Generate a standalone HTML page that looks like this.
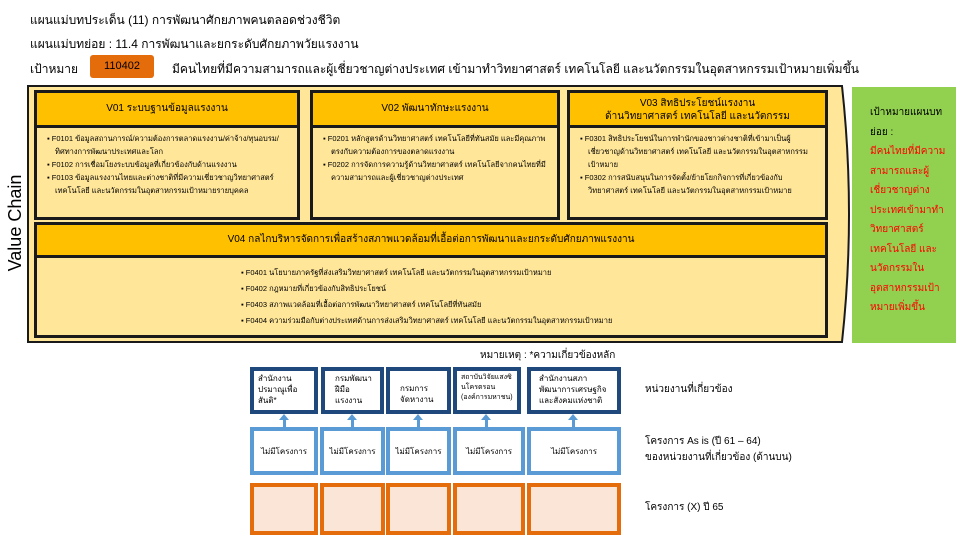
<!DOCTYPE html>
<html><head><meta charset="utf-8"><style>
body{margin:0;width:960px;height:540px;background:#fff;position:relative;overflow:hidden;font-family:"Liberation Sans",sans-serif;color:#000}
.a{position:absolute}
.t{font-size:12px}
.hd{background:#ffc000;border:3px solid #1a1a1a;text-align:center;font-size:10px;box-sizing:border-box}
.bd{background:#ffe699;border:3px solid #1a1a1a;box-sizing:border-box;font-size:7.5px;line-height:13px;padding:4px 6px 0 6px}
.bd div{padding-left:12px;text-indent:-8px}
.db{border:4px solid #1f497d;background:#fff;box-sizing:border-box;font-size:8px;line-height:11px;padding:2px 4px;overflow:hidden}
.lb{border:4px solid #5b9bd5;background:#fff;box-sizing:border-box;font-size:8px;display:flex;align-items:center;justify-content:center}
.ob{border:4px solid #e46c0a;background:#fbe5d6;box-sizing:border-box}
.ar{position:absolute;width:0;height:0;border-left:5px solid transparent;border-right:5px solid transparent;border-bottom:6px solid #5b9bd5}
.as{position:absolute;width:3px;height:8px;background:#5b9bd5}
</style></head><body>
<div class="a t" style="left:30px;top:11px">แผนแม่บทประเด็น (11) การพัฒนาศักยภาพคนตลอดช่วงชีวิต</div>
<div class="a t" style="left:30px;top:35px">แผนแม่บทย่อย : 11.4 การพัฒนาและยกระดับศักยภาพวัยแรงงาน</div>
<div class="a t" style="left:30px;top:60px">เป้าหมาย</div>
<div class="a" style="left:90px;top:55px;width:64px;height:23px;background:#e46c0a;border-radius:3px;font-size:11px;text-align:center;line-height:23px">110402</div>
<div class="a t" style="left:172px;top:60px">มีคนไทยที่มีความสามารถและผู้เชี่ยวชาญต่างประเทศ เข้ามาทำวิทยาศาสตร์ เทคโนโลยี และนวัตกรรมในอุตสาหกรรมเป้าหมายเพิ่มขึ้น</div>
<div class="a" style="left:-45px;top:213px;width:120px;text-align:center;transform:rotate(-90deg);font-size:18px;white-space:nowrap;line-height:20px">Value Chain</div>
<svg class="a" style="left:0;top:0" width="960" height="540"><path d="M28,86 L842,86 Q856,214 842,342 L28,342 Z" fill="#ffe699" stroke="#1a1a1a" stroke-width="2"/></svg>
<div class="a hd" style="left:34px;top:90px;width:266px;height:38px;line-height:32px">V01 ระบบฐานข้อมูลแรงงาน</div>
<div class="a bd" style="left:34px;top:125px;width:266px;height:95px"><div>▪ F0101 ข้อมูลสถานการณ์/ความต้องการตลาดแรงงาน/ค่าจ้าง/ทุนอบรม/ทิศทางการพัฒนาประเทศและโลก</div><div>▪ F0102 การเชื่อมโยงระบบข้อมูลที่เกี่ยวข้องกับด้านแรงงาน</div><div>▪ F0103 ข้อมูลแรงงานไทยและต่างชาติที่มีความเชี่ยวชาญวิทยาศาสตร์ เทคโนโลยี และนวัตกรรมในอุตสาหกรรมเป้าหมายรายบุคคล</div></div>
<div class="a hd" style="left:310px;top:90px;width:250px;height:38px;line-height:32px">V02 พัฒนาทักษะแรงงาน</div>
<div class="a bd" style="left:310px;top:125px;width:250px;height:95px"><div>▪ F0201 หลักสูตรด้านวิทยาศาสตร์ เทคโนโลยีที่ทันสมัย และมีคุณภาพตรงกับความต้องการของตลาดแรงงาน</div><div>▪ F0202 การจัดการความรู้ด้านวิทยาศาสตร์ เทคโนโลยีจากคนไทยที่มีความสามารถและผู้เชี่ยวชาญต่างประเทศ</div></div>
<div class="a hd" style="left:567px;top:90px;width:261px;height:38px;line-height:13px;padding-top:4px">V03 สิทธิประโยชน์แรงงาน<br>ด้านวิทยาศาสตร์ เทคโนโลยี และนวัตกรรม</div>
<div class="a bd" style="left:567px;top:125px;width:261px;height:95px"><div>▪ F0301 สิทธิประโยชน์ในการพำนักของชาวต่างชาติที่เข้ามาเป็นผู้เชี่ยวชาญด้านวิทยาศาสตร์ เทคโนโลยี และนวัตกรรมในอุตสาหกรรมเป้าหมาย</div><div>▪ F0302 การสนับสนุนในการจัดตั้ง/ย้ายโยกกิจการที่เกี่ยวข้องกับวิทยาศาสตร์ เทคโนโลยี และนวัตกรรมในอุตสาหกรรมเป้าหมาย</div></div>
<div class="a hd" style="left:34px;top:222px;width:794px;height:36px;line-height:30px">V04 กลไกบริหารจัดการเพื่อสร้างสภาพแวดล้อมที่เอื้อต่อการพัฒนาและยกระดับศักยภาพแรงงาน</div>
<div class="a bd" style="left:34px;top:255px;width:794px;height:83px;padding-left:200px;padding-top:7px;line-height:16px"><div>▪ F0401 นโยบายภาครัฐที่ส่งเสริมวิทยาศาสตร์ เทคโนโลยี และนวัตกรรมในอุตสาหกรรมเป้าหมาย</div><div>▪ F0402 กฎหมายที่เกี่ยวข้องกับสิทธิประโยชน์</div><div>▪ F0403 สภาพแวดล้อมที่เอื้อต่อการพัฒนาวิทยาศาสตร์ เทคโนโลยีที่ทันสมัย</div><div>▪ F0404 ความร่วมมือกับต่างประเทศด้านการส่งเสริมวิทยาศาสตร์ เทคโนโลยี และนวัตกรรมในอุตสาหกรรมเป้าหมาย</div></div>
<div class="a" style="left:852px;top:87px;width:104px;height:256px;background:#92d050;box-sizing:border-box;padding:16px 4px 0 18px;font-size:10px;line-height:19.5px">เป้าหมายแผนบทย่อย :<br><span style="color:#f00">มีคนไทยที่มีความสามารถและผู้เชี่ยวชาญต่างประเทศเข้ามาทำวิทยาศาสตร์เทคโนโลยี และนวัตกรรมในอุตสาหกรรมเป้าหมายเพิ่มขึ้น</span></div>
<div class="a" style="left:480px;top:348px;font-size:10px">หมายเหตุ : *ความเกี่ยวข้องหลัก</div>
<div class="a db" style="left:250px;top:367px;width:68px;height:47px">สำนักงานปรมาณูเพื่อสันติ*</div>
<div class="a db" style="left:321px;top:367px;width:63px;height:47px;padding-left:10px">กรมพัฒนาฝีมือแรงงาน</div>
<div class="a db" style="left:386px;top:367px;width:65px;height:47px;padding:12px 4px 0 10px">กรมการจัดหางาน</div>
<div class="a db" style="left:453px;top:367px;width:68px;height:47px;font-size:7px;line-height:10px">สถาบันวิจัยแสงซินโครตรอน (องค์การมหาชน)</div>
<div class="a db" style="left:527px;top:367px;width:94px;height:47px;padding-left:8px">สำนักงานสภาพัฒนาการเศรษฐกิจและสังคมแห่งชาติ</div>
<div class="a" style="left:645px;top:382px;font-size:10px">หน่วยงานที่เกี่ยวข้อง</div>
<div class="ar" style="left:279px;top:414px"></div><div class="as" style="left:283px;top:419px"></div>
<div class="ar" style="left:347px;top:414px"></div><div class="as" style="left:351px;top:419px"></div>
<div class="ar" style="left:413px;top:414px"></div><div class="as" style="left:417px;top:419px"></div>
<div class="ar" style="left:481px;top:414px"></div><div class="as" style="left:485px;top:419px"></div>
<div class="ar" style="left:568px;top:414px"></div><div class="as" style="left:572px;top:419px"></div>
<div class="a lb" style="left:250px;top:427px;width:68px;height:48px">ไม่มีโครงการ</div>
<div class="a lb" style="left:320px;top:427px;width:65px;height:48px">ไม่มีโครงการ</div>
<div class="a lb" style="left:386px;top:427px;width:65px;height:48px">ไม่มีโครงการ</div>
<div class="a lb" style="left:453px;top:427px;width:72px;height:48px">ไม่มีโครงการ</div>
<div class="a lb" style="left:527px;top:427px;width:94px;height:48px">ไม่มีโครงการ</div>
<div class="a" style="left:645px;top:434px;font-size:10px;line-height:16px">โครงการ As is (ปี 61 – 64)<br>ของหน่วยงานที่เกี่ยวข้อง (ด้านบน)</div>
<div class="a ob" style="left:250px;top:483px;width:68px;height:52px"></div>
<div class="a ob" style="left:320px;top:483px;width:65px;height:52px"></div>
<div class="a ob" style="left:386px;top:483px;width:65px;height:52px"></div>
<div class="a ob" style="left:453px;top:483px;width:72px;height:52px"></div>
<div class="a ob" style="left:527px;top:483px;width:94px;height:52px"></div>
<div class="a" style="left:645px;top:500px;font-size:10px">โครงการ (X) ปี 65</div>
</body></html>
